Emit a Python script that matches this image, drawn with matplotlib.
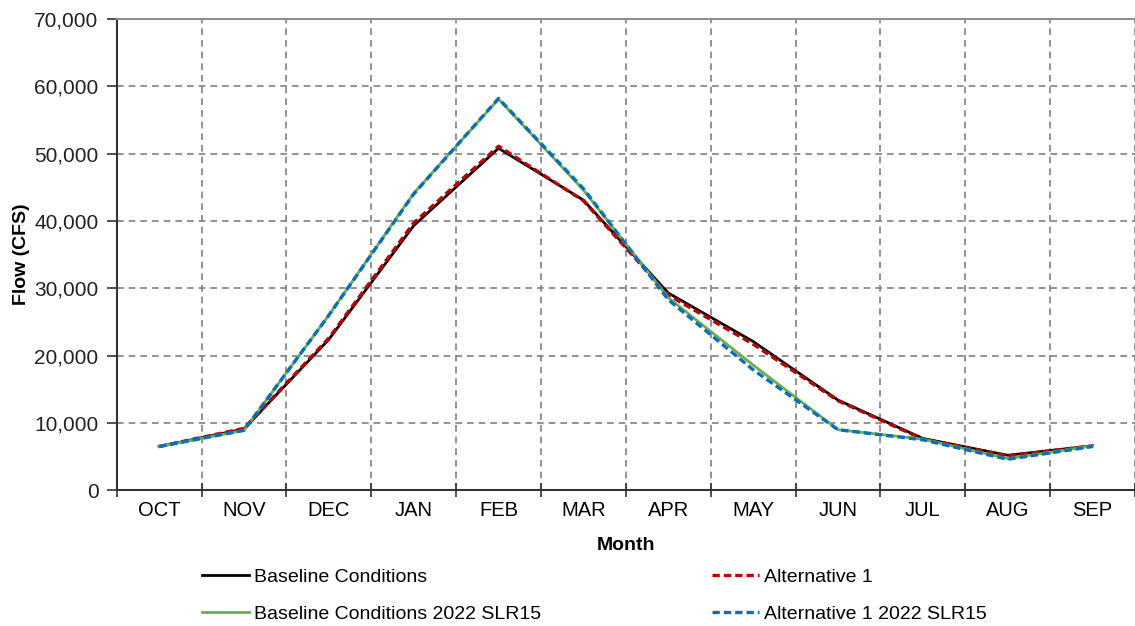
import matplotlib
matplotlib.use("Agg")
import matplotlib.pyplot as plt
from matplotlib.ticker import FuncFormatter, MultipleLocator

plt.rcParams['font.family'] = ['Liberation Sans', 'DejaVu Sans']

months = ['OCT', 'NOV', 'DEC', 'JAN', 'FEB', 'MAR', 'APR', 'MAY', 'JUN', 'JUL', 'AUG', 'SEP']

baseline = [6500, 9100, 22400, 39300, 50800, 43100, 29300, 22100, 13400, 7700, 5200, 6600]
alt1 = [6500, 9200, 22600, 39700, 51100, 43000, 29000, 21700, 13300, 7600, 5100, 6600]
baseline_slr = [6500, 8900, 26000, 44100, 58100, 44600, 28600, 18600, 9000, 7600, 4700, 6600]
alt1_slr = [6500, 8900, 26000, 44000, 58200, 44800, 28300, 17900, 9000, 7500, 4600, 6500]

x = list(range(len(months)))

fig = plt.figure(figsize=(11.35, 6.26), dpi=100)
ax = fig.add_axes([0.1028, 0.2168, 0.8972, 0.7529])

l1, = ax.plot(x, baseline, color='black', lw=2.0, zorder=3)
l2, = ax.plot(x, alt1, color='#C00000', lw=2.4, ls=(0, (2.2, 1.2)), zorder=4)
l3, = ax.plot(x, baseline_slr, color='#70AD47', lw=2.0, zorder=5)
l4, = ax.plot(x, alt1_slr, color='#0070C0', lw=2.4, ls=(0, (2.2, 1.2)), zorder=6)

ax.set_xlim(-0.5, 11.48)
ax.set_ylim(0, 70000)
ax.yaxis.set_major_locator(MultipleLocator(10000))
ax.yaxis.set_major_formatter(FuncFormatter(lambda v, p: f'{int(v):,}'))

ax.set_xticks(x)
ax.set_xticklabels(months)
ax.set_xticks([i + 0.5 for i in range(-1, 12)], minor=True)
ax.tick_params(axis='x', which='major', length=0, pad=8, labelsize=14.5)
ax.tick_params(axis='x', which='minor', length=10, direction='inout', width=1.2, color='#333333')
ax.tick_params(axis='y', which='major', length=7, direction='out', width=1.2, pad=6,
               labelsize=15, color='#333333', labelcolor='#222222')

ax.grid(True, axis='y', which='major', color='#808080', ls=(0, (4, 3)), lw=1.2)
ax.grid(True, axis='x', which='minor', color='#808080', ls=(0, (4, 3)), lw=1.2)
ax.set_axisbelow(True)

ax.spines['right'].set_visible(False)
ax.spines['top'].set_color('#909090')
ax.spines['top'].set_linewidth(1.5)
ax.spines['left'].set_color('#333333')
ax.spines['left'].set_linewidth(1.5)
ax.spines['bottom'].set_color('#333333')
ax.spines['bottom'].set_linewidth(1.5)

ax.set_xlabel('Month', fontsize=14, fontweight='bold', labelpad=12)
ax.set_ylabel('Flow (CFS)', fontsize=14, fontweight='bold', labelpad=3)

leg_kw = dict(frameon=False, fontsize=14, handlelength=2.4, handletextpad=0.3,
              labelspacing=1.0, borderpad=0, borderaxespad=0, loc='upper left')
fig.legend([l1, l3], ['Baseline Conditions', 'Baseline Conditions 2022 SLR15'],
           bbox_to_anchor=(202 / 1135, 1 - 568 / 626), **leg_kw)
fig.legend([l2, l4], ['Alternative 1', 'Alternative 1 2022 SLR15'],
           bbox_to_anchor=(712 / 1135, 1 - 568 / 626), **leg_kw)

fig.savefig('out.png', dpi=100)
